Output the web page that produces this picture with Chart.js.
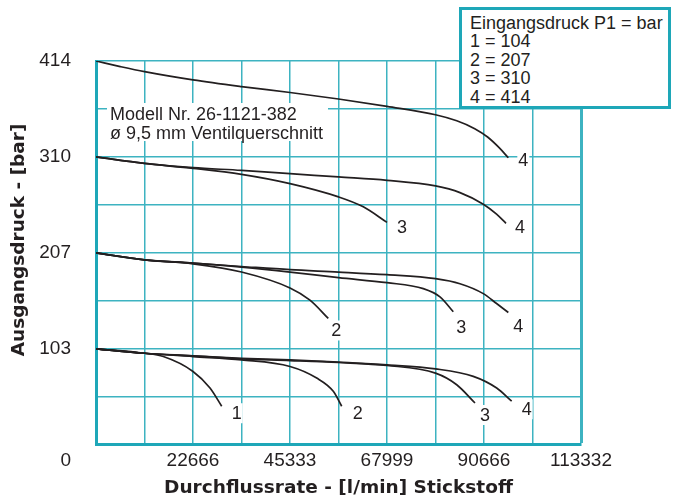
<!DOCTYPE html>
<html><head><meta charset="utf-8">
<script src="https://cdn.jsdelivr.net/npm/chart.js@4/dist/chart.umd.min.js"></script>
<style>
html,body{margin:0;padding:0;background:#fff;}
#wrap{position:relative;width:681px;height:502px;overflow:hidden;}
canvas{position:absolute;left:0;top:0;}
.note{position:absolute;background:#fff;font-family:"Liberation Sans",Arial,sans-serif;font-size:18px;color:#231f20;white-space:nowrap;}
#model{left:107px;top:103px;width:221px;height:38px;box-sizing:border-box;padding:2px 0 0 3px;line-height:19.3px;}
#legendBox{left:459px;top:7px;width:212px;height:102px;box-sizing:border-box;border:3px solid #1ea7b8;padding:3.5px 0 0 8px;line-height:18.5px;}
</style></head><body>
<div id="wrap"><canvas id="c" width="681" height="502"></canvas>
<div class="note" id="model"></div>
<div class="note" id="legendBox"></div>
</div>
<script>
// ---- data ----
const legendLines = ['Eingangsdruck P1 = bar', '1 = 104', '2 = 207', '3 = 310', '4 = 414'];
const modelLines = ['Modell Nr. 26-1121-382', 'ø 9,5 mm Ventilquerschnitt'];

const xGridValues = [0, 11333.2, 22666.4, 33999.6, 45332.8, 56666, 67999.2, 79332.4, 90665.6, 101998.8, 113332];
const xTickLabels = ['', '', '22666', '', '45333', '', '67999', '', '90666', '', '113332'];
const yGridValues = [0, 51.75, 103.5, 155.25, 207, 258.75, 310.5, 362.25, 414];
const yTickLabels = [['', '0'], '', '103', '', '207', '', '310', '', '414'];

const xTitle = 'Durchflussrate - [l/min] Stickstoff';
const yTitle = 'Ausgangsdruck - [bar]';

// inlet 414, curve 4
const p414_c4_x = [0, 5666, 11333, 22666, 34000, 45333, 56666, 68000, 79332, 84300, 88500, 91500, 94200, 96350];
const p414_c4_y = [414, 408, 402.5, 393.6, 386.4, 380, 373, 365, 356, 349.5, 341, 332, 320.5, 309.6];
// outlet ~310 group
const p310_c4_x = [0, 11333, 22666, 34000, 45333, 56666, 68000, 79332, 85050, 90500, 93600, 95800];
const p310_c4_y = [310.5, 303.5, 298.9, 296, 292.4, 288.9, 285.3, 279.2, 272, 259.5, 248.8, 238.8];
const p310_c3_x = [0, 11333, 22666, 34000, 45333, 56666, 62460, 68000];
const p310_c3_y = [310.5, 303.5, 298.2, 291.7, 281.7, 267.4, 256.7, 239.9];
// outlet ~207 group
const p207_c4_x = [0, 11333, 22666, 34000, 45333, 56666, 68000, 79332, 85050, 90500, 93600, 96350];
const p207_c4_y = [207, 199.5, 195.9, 192.3, 188.8, 186.3, 183.4, 179.1, 173.7, 163, 152.3, 142.6];
const p207_c3_x = [0, 11333, 22666, 34000, 45333, 56666, 68000, 76480, 80380, 83490];
const p207_c3_y = [207, 199.5, 195.9, 191.6, 186.3, 180.2, 174.8, 168.4, 159.5, 143.4];
const p207_c2_x = [0, 11333, 22666, 34000, 45333, 50000, 54280];
const p207_c2_y = [207, 199.5, 195.2, 186.3, 169.1, 155.9, 136.2];
// outlet ~103 group
const p103_c4_x = [0, 11333, 22666, 34000, 45333, 56666, 68000, 79332, 88160, 93630, 97130];
const p103_c4_y = [103.5, 98.7, 95.8, 93.3, 91.5, 89, 86.1, 81.8, 73.7, 61.1, 46.9];
const p103_c3_x = [0, 11333, 22666, 34000, 45333, 56666, 68000, 79332, 84290, 88560];
const p103_c3_y = [103.5, 98.7, 95.8, 92.6, 90.8, 88.7, 85.5, 77.2, 64.7, 45];
const p103_c2_x = [0, 11333, 22666, 34000, 45333, 51570, 55450, 57410];
const p103_c2_y = [103.5, 98.7, 95.1, 91.5, 84.4, 71.9, 57.6, 41.5];
const p103_c1_x = [0, 11333, 15730, 22666, 26640, 29370];
const p103_c1_y = [103.5, 98.7, 95.1, 79, 61.1, 41.5];

// ---- html notes ----
document.getElementById('legendBox').innerHTML = legendLines.join('<br>');
document.getElementById('model').innerHTML = modelLines.join('<br>');

// ---- build ----
const ink = '#231f20';
const gridColor = '#3db3c1';
const borderColor = '#1ea7b8';
const pts = (xs, ys) => xs.map((x, i) => ({x: x, y: ys[i]}));
const series = [
  {label: '4', x: p414_c4_x, y: p414_c4_y, off: [15, 2]},
  {label: '4', x: p310_c4_x, y: p310_c4_y, off: [14, 4]},
  {label: '3', x: p310_c3_x, y: p310_c3_y, off: [15, 5]},
  {label: '4', x: p207_c4_x, y: p207_c4_y, off: [10, 13]},
  {label: '3', x: p207_c3_x, y: p207_c3_y, off: [8, 15]},
  {label: '2', x: p207_c2_x, y: p207_c2_y, off: [8, 12]},
  {label: '4', x: p103_c4_x, y: p103_c4_y, off: [15, 8]},
  {label: '3', x: p103_c3_x, y: p103_c3_y, off: [10, 12]},
  {label: '2', x: p103_c2_x, y: p103_c2_y, off: [16, 7]},
  {label: '1', x: p103_c1_x, y: p103_c1_y, off: [15, 7]}
];
const datasets = series.map(s => ({
  label: s.label,
  data: pts(s.x, s.y),
  borderColor: ink,
  borderWidth: 1.7,
  pointRadius: 0,
  fill: false,
  cubicInterpolationMode: 'monotone',
  labelOffset: s.off
}));

const curveLabelPlugin = {
  id: 'curveLabels',
  afterDatasetsDraw(chart) {
    const ctx = chart.ctx;
    chart.data.datasets.forEach((ds, i) => {
      const meta = chart.getDatasetMeta(i);
      const pt = meta.data[meta.data.length - 1];
      const x = pt.x + ds.labelOffset[0], y = pt.y + ds.labelOffset[1];
      ctx.save();
      ctx.font = '18px "Liberation Sans", Arial, sans-serif';
      const w = ctx.measureText(ds.label).width;
      ctx.fillStyle = '#fff';
      ctx.fillRect(x - w / 2 - 1, y - 10, w + 2, 20);
      ctx.fillStyle = ink;
      ctx.textAlign = 'center';
      ctx.textBaseline = 'middle';
      ctx.fillText(ds.label, x, y + 1);
      ctx.restore();
    });
  }
};

new Chart(document.getElementById('c'), {
  type: 'line',
  data: {datasets: datasets},
  plugins: [curveLabelPlugin],
  options: {
    responsive: false,
    animation: false,
    layout: {padding: {top: 61, right: 100, bottom: 0, left: 0}},
    plugins: {legend: {display: false}, tooltip: {enabled: false}},
    scales: {
      x: {
        type: 'linear', min: 0, max: 113332,
        afterBuildTicks: s => { s.ticks = xGridValues.map(v => ({value: v})); },
        afterFit: s => { s.height = 55; },
        grid: {color: gridColor, lineWidth: c => (c.index === xGridValues.length - 1 ? 3 : 1.5), drawTicks: false},
        border: {display: true, color: borderColor, width: 3},
        ticks: {
          autoSkip: false, maxRotation: 0, minRotation: 0, padding: 5, color: ink,
          font: {family: '"Liberation Sans", Arial, sans-serif', size: 19},
          callback: (v, i) => xTickLabels[i]
        },
        title: {display: true, text: xTitle, color: ink, padding: {top: 0, bottom: 0},
          font: {family: '"DejaVu Sans", sans-serif', size: 18.5, weight: 'bold'}}
      },
      y: {
        type: 'linear', min: 0, max: 414,
        afterBuildTicks: s => { s.ticks = yGridValues.map(v => ({value: v})); },
        afterFit: s => { s.width = 96; },
        grid: {color: gridColor, lineWidth: 1.5, drawTicks: false},
        border: {display: true, color: borderColor, width: 3},
        ticks: {
          autoSkip: false, padding: 25, color: ink,
          font: {family: '"Liberation Sans", Arial, sans-serif', size: 19, lineHeight: 1.7},
          callback: (v, i) => yTickLabels[i]
        },
        title: {display: true, text: '    ' + yTitle, color: ink, padding: {top: 8, bottom: 0},
          font: {family: '"DejaVu Sans", sans-serif', size: 18.5, weight: 'bold'}}
      }
    }
  }
});
</script>
</body></html>
